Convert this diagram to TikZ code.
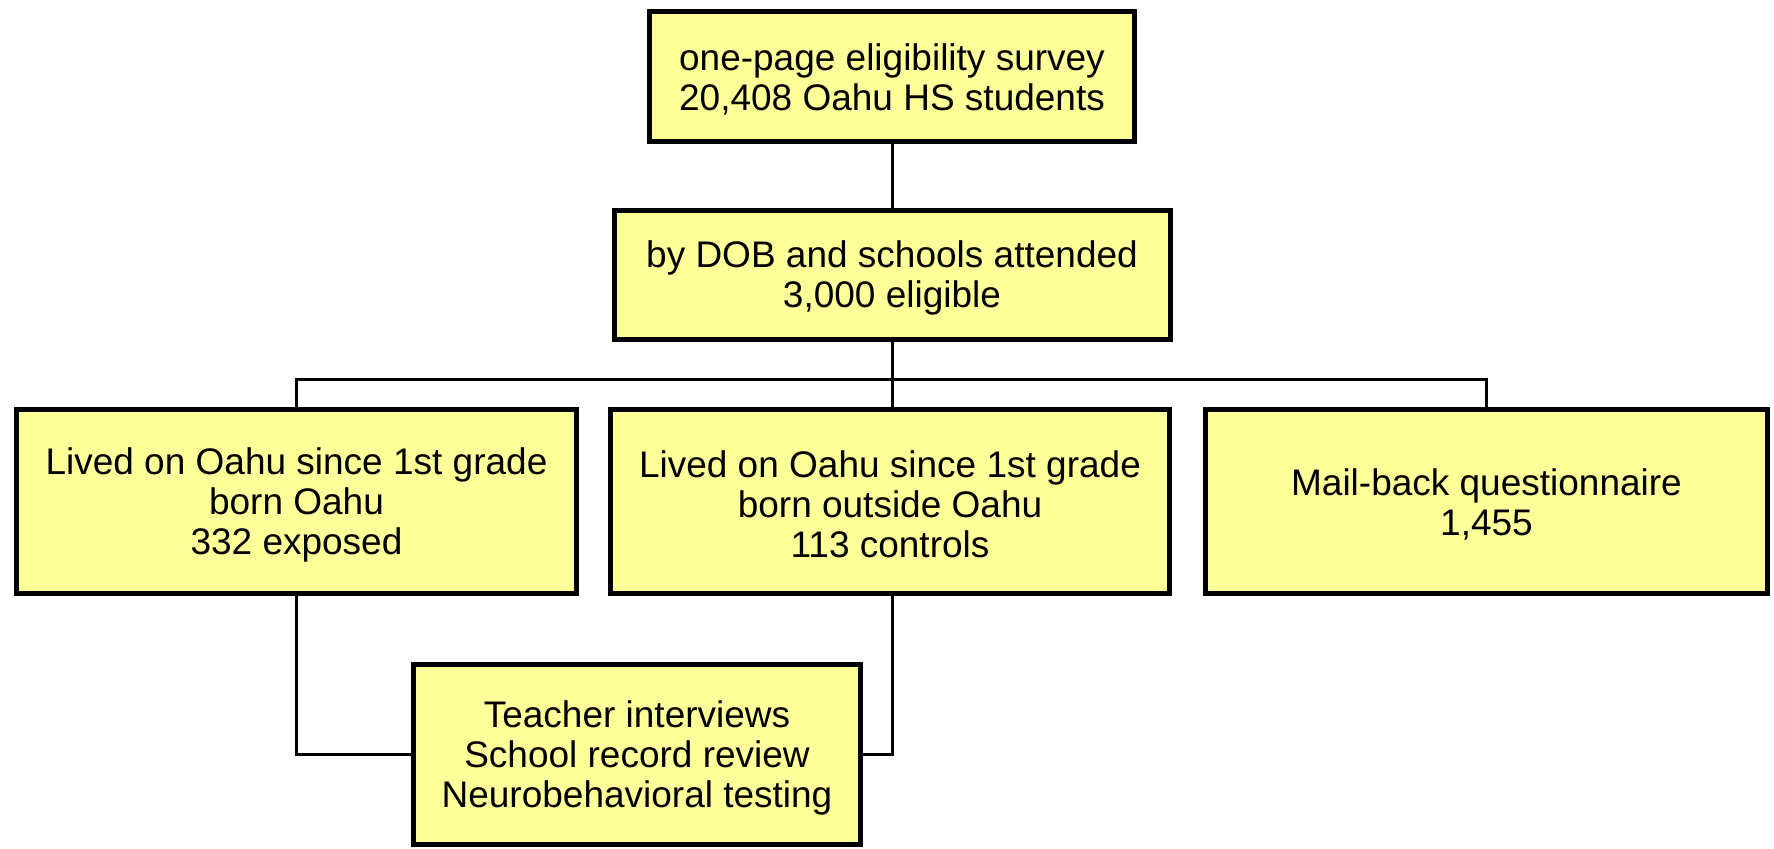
\documentclass[tikz,border=0pt]{standalone}
\usepackage{fontspec}
\setmainfont{Liberation Sans}
\pgfdeclarelayer{edgelayer}
\pgfdeclarelayer{nodelayer}
\pgfsetlayers{edgelayer,nodelayer,main}
\definecolor{boxyellow}{RGB}{255,255,153}
\tikzset{font=\fontsize{18.5}{20}\selectfont}
\newcommand{\topgap}{\rule{0pt}{16.5pt}}
\tikzstyle{none}=[inner sep=0pt]
\tikzstyle{box}=[rectangle,draw=black,fill=boxyellow,line width=2.5pt,align=center,inner sep=0pt]
\tikzstyle{link}=[line width=1.5pt]

\begin{document}
\begin{tikzpicture}[x=0.5pt,y=-0.5pt]
	\useasboundingbox (0,0) rectangle (1774,849);
	\begin{pgfonlayer}{nodelayer}
		\node [style=box, minimum width=242.5pt, minimum height=65pt] (0) at (892, 76.5) {\topgap one-page eligibility survey\\20,408 Oahu HS students};
		\node [style=box, minimum width=278pt, minimum height=64.5pt] (1) at (892, 275) {\topgap by DOB and schools attended\\3,000 eligible};
		\node [style=box, minimum width=280pt, minimum height=92pt] (2) at (296.5, 501.5) {\topgap Lived on Oahu since 1st grade\\born Oahu\\332 exposed};
		\node [style=box, minimum width=279.5pt, minimum height=92pt] (3) at (890, 501.5) {\topgap Lived on Oahu since 1st grade\\born outside Oahu\\113 controls};
		\node [style=box, minimum width=281pt, minimum height=92pt] (4) at (1486.5, 501.5) {\topgap Mail-back questionnaire\\1,455};
		\node [style=box, minimum width=223.5pt, minimum height=90pt] (5) at (637, 754.5) {\topgap Teacher interviews\\School record review\\Neurobehavioral testing};
		\node [style=none] (6) at (892, 380) {};
	\end{pgfonlayer}
	\begin{pgfonlayer}{edgelayer}
		\draw [style=link] (0) to (1);
		\draw [style=link] (1) to (6.center);
		\draw [style=link] (2) |- (6.center) -| (4);
		\draw [style=link] (6.center) to (6.center |- 3.north);
		\draw [style=link] (2) |- (5);
		\draw [style=link] (3.south -| 6.center) |- (5);
	\end{pgfonlayer}
\end{tikzpicture}
\end{document}
